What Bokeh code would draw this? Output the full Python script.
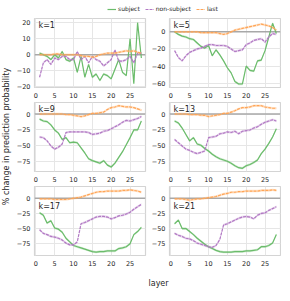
import math
from bokeh.plotting import figure
from bokeh.models import Range1d, FixedTicker, Span, Label, Legend, LegendItem, ColumnDataSource
from bokeh.layouts import column, row
from bokeh.embed import file_html
from bokeh.resources import INLINE

# ---------------- data ----------------
layer = list(range(1, 29))
k_values = [1, 5, 9, 13, 17, 21]

subject = {
    1: [1, 0, -1, -3, 0, -2, 2, -3, -4, -2, -11, -1, -14, -6, -14, -12, -16, -12, -13, -15, -9, -3, -11, -13, 10, -18, 20, -2],
    5: [0, -3, -5, -6, -8, -9, -13, -17, -19, -16, -28, -21, -27, -34, -42, -48, -58, -61, -61, -40, -45, -46, -34, -33, -22, -6, 10, -2],
    9: [-8, -11, -12, -17, -25, -30, -40, -37, -45, -44, -45, -53, -61, -70, -73, -75, -77, -73, -80, -83, -77, -68, -59, -48, -37, -25, -25, -11],
    13: [-11, -14, -22, -32, -42, -37, -47, -49, -54, -58, -63, -67, -70, -72, -74, -77, -81, -84, -85, -81, -79, -76, -72, -62, -55, -46, -36, -23],
    17: [-24, -28, -41, -37, -49, -51, -56, -66, -72, -78, -80, -82, -84, -86, -88, -89, -88, -88, -87, -87, -87, -83, -82, -80, -75, -60, -55, -48],
    21: [-42, -36, -50, -50, -55, -60, -66, -71, -76, -80, -83, -86, -88, -89, -89, -89, -88, -88, -88, -87, -87, -86, -85, -80, -80, -78, -74, -60],
}
non_subject = {
    1: [-14, -5, -3, -6, -2, -3, -1, -1, -3, -3, 2, -3, -1, -5, -1, -3, -4, -7, -5, -3, 3, -4, -4, -3, -1, -5, 1, 1],
    5: [-22, -30, -34, -28, -24, -22, -20, -19, -17, -15, -15, -16, -16, -16, -17, -20, -23, -22, -21, -15, -13, -10, -9, -8, -12, -6, -2, -3],
    9: [-36, -37, -42, -50, -55, -52, -47, -29, -28, -28, -28, -28, -28, -29, -32, -31, -30, -27, -26, -23, -20, -17, -13, -10, -11, -9, -7, -4],
    13: [-40, -45, -50, -55, -57, -60, -62, -60, -58, -37, -36, -35, -31, -30, -28, -29, -27, -31, -27, -26, -25, -22, -20, -16, -13, -11, -9, -11],
    17: [-52, -58, -60, -63, -64, -66, -69, -74, -77, -77, -72, -42, -40, -37, -34, -31, -30, -30, -31, -34, -32, -29, -28, -26, -23, -18, -14, -10],
    21: [-58, -61, -63, -66, -67, -70, -74, -76, -78, -80, -81, -78, -68, -44, -42, -39, -36, -33, -31, -30, -31, -34, -28, -25, -24, -20, -17, -14],
}
last = {
    1: [0, 0, 0, 0, 0.5, 0.5, 0, 0, 0, 0, 0, -0.5, -1, -1, -1.5, -1, 0, 0.5, 1, 1, 1, 1.5, 2, 2.5, 2, 2.5, 1.5, 1],
    5: [0, 0, 0, 0, 0, 0, 0, -1, -1, -1, -1, -1, -2, -3, -2, 0, 2, 3, 4, 5, 6, 7, 8, 9, 8, 7, 5, 2],
    9: [0, 0, 0, 0, 0, 0, 0, -1, -1, -2, -3, -4, -3, -1, 1, 1, 2, 3, 7, 10, 11, 13, 12, 11, 11, 10, 8, 6],
    13: [0, 0, 0, 0, -1, -1, -1, -2, -2, -4, -3, -2, -1, 1, 1, 3, 5, 8, 10, 10, 11, 13, 13, 13, 11, 10, 9, 9],
    17: [-1, -1, -1, -1, -2, -2, -2, -2, -1, 0, 1, 2, 4, 6, 8, 10, 11, 11, 12, 12, 12, 12, 13, 13, 14, 13, 12, 10],
    21: [-1, -1, -1, -2, -3, -2, -1, -1, 0, 1, 2, 3, 5, 7, 8, 10, 10, 11, 11, 12, 12, 12, 12, 13, 13, 13, 14, 13],
}

x_ticks = [0, 5, 10, 15, 20, 25]
y_ticks = {
    1: [-20, -10, 0, 10, 20],
    5: [-60, -40, -20, 0],
    9: [-75, -50, -25, 0],
    13: [-75, -50, -25, 0],
    17: [-75, -50, -25, 0],
    21: [-75, -50, -25, 0],
}
y_ranges = {
    1: (-20.4, 22.6),
    5: (-65.1, 15.6),
    9: (-90, 18),
    13: (-90, 18),
    17: (-94.5, 19.5),
    21: (-94.5, 19.5),
}
x_range = (-0.35, 29.1)

series_names = ["subject", "non-subject", "last"]
series_colors = ["#6bbc6b", "#b279c4", "#ffa556"]
series_dash = ["solid", "3 1", "3 1"]

# ---------------- style / layout ----------------
FONT = "DejaVu Sans"
TXT = "#262626"
FW, FH = 111, 69
BAND_PX = 1.2
label_top = {1: 2, 5: 2, 9: 2, 13: 2, 17: 15, 21: 15}
STRIP_W = 281
STRIP_LEFT = 107   # shared left border of the legend and x-label strips


def minus(v):
    return str(v).replace("-", "\u2212")


def panel(k, col):
    p = figure(
        frame_width=FW, frame_height=FH,
        x_range=Range1d(*x_range), y_range=Range1d(*y_ranges[k]),
        output_backend="svg", toolbar_location=None, title=None,
        min_border_left=22 if col == 0 else 21,
        min_border_right=3 if col == 0 else 1,
        min_border_top=1, min_border_bottom=14,
        background_fill_color="white", border_fill_color="white",
    )
    p.xaxis.ticker = FixedTicker(ticks=x_ticks)
    p.yaxis.ticker = FixedTicker(ticks=y_ticks[k])
    p.yaxis.major_label_overrides = {t: minus(t) for t in y_ticks[k]}
    for ax in (p.xaxis, p.yaxis):
        ax.axis_line_color = None
        ax.major_tick_line_color = None
        ax.minor_tick_line_color = None
        ax.major_tick_out = 0
        ax.major_tick_in = 0
        ax.minor_tick_out = 0
        ax.minor_tick_in = 0
        ax.major_label_text_font = FONT
        ax.major_label_text_font_size = "6.5px"
        ax.major_label_text_color = TXT
    p.xaxis.major_label_standoff = 5
    p.yaxis.major_label_standoff = 4
    p.grid.grid_line_color = "#e6e6e6"
    p.grid.grid_line_width = 1
    p.outline_line_color = "#d4d4d4"
    p.outline_line_width = 1.2

    p.add_layout(Span(location=0, dimension="width", line_color="#a8a8a8",
                      line_width=1.5, level="underlay"))

    y0, y1 = y_ranges[k]
    hw = BAND_PX * (y1 - y0) / FH
    for data, color, dash in zip([subject[k], non_subject[k], last[k]], series_colors, series_dash):
        src = ColumnDataSource(dict(
            x=layer, y=data,
            lo=[v - hw for v in data], hi=[v + hw for v in data]))
        p.varea(x="x", y1="lo", y2="hi", source=src, fill_color=color, fill_alpha=0.3)
        p.line(x="x", y="y", source=src, line_color=color, line_width=1.2, line_dash=dash)

    p.add_layout(Label(x=4, y=FH - label_top[k], x_units="screen", y_units="screen",
                       text=f"k={k}", text_font=FONT, text_font_size="8px",
                       text_color=TXT, text_baseline="top", text_align="left"))
    return p


panels = [panel(k, i % 2) for i, k in enumerate(k_values)]
grid = column(row(panels[0], panels[1]), row(panels[2], panels[3]), row(panels[4], panels[5]))


def blank(w, h, left=0, top=0):
    f = figure(width=w, height=h, x_range=Range1d(0, 1), y_range=Range1d(0, 1),
               x_axis_type=None, y_axis_type=None, output_backend="svg",
               toolbar_location=None, title=None,
               min_border_left=left, min_border_right=0, min_border_top=top, min_border_bottom=0)
    f.outline_line_color = None
    f.border_fill_color = "white"
    f.background_fill_color = "white"
    return f


# legend strip (its key renderers carry the k=1 series but stay hidden)
leg = blank(STRIP_W, 17, left=STRIP_LEFT, top=5)
items = []
for name, data, color, dash in zip(series_names, [subject[1], non_subject[1], last[1]],
                                   series_colors, series_dash):
    r = leg.line(x="x", y="y", source=ColumnDataSource(dict(x=layer, y=data)),
                 line_color=color, line_width=1.2, line_dash=dash)
    r.visible = False
    items.append(LegendItem(label=name, renderers=[r]))
legend = Legend(items=items, orientation="horizontal", location="top_left",
                glyph_width=9, glyph_height=6, label_standoff=2, spacing=5,
                padding=0, margin=0, border_line_color=None, background_fill_alpha=0,
                inactive_fill_alpha=0,
                label_text_font=FONT, label_text_font_size="6px",
                label_text_color=TXT, label_height=6, label_width=0,
                label_text_baseline="middle")
leg.add_layout(legend)

# y label strip
ylab = blank(12, 252)
ylab.add_layout(Label(x=6, y=133, x_units="screen", y_units="screen",
                      text="% change in prediction probability", angle=math.pi / 2,
                      text_font=FONT, text_font_size="8px", text_color=TXT,
                      text_align="center", text_baseline="middle"))

# x label strip (shares its left border with the legend strip)
xlab = blank(STRIP_W, 20, left=STRIP_LEFT)
xlab.add_layout(Label(x=41, y=6, x_units="screen", y_units="screen",
                      text="layer", text_font=FONT, text_font_size="8px", text_color=TXT,
                      text_align="left", text_baseline="middle"))

layout = column(leg, row(ylab, grid), xlab)

open("out.html", "w").write(file_html(layout, INLINE))
